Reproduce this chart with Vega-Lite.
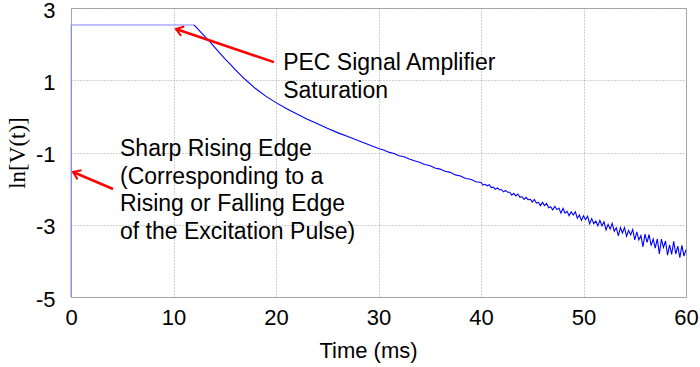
{
  "$schema": "https://vega.github.io/schema/vega-lite/v6.json",
  "width": 615,
  "height": 289,
  "autosize": "none",
  "padding": {"left": 71, "top": 8, "right": 14, "bottom": 70},
  "background": "white",
  "config": {
    "view": {"stroke": "#a8a8a8", "strokeWidth": 1},
    "axis": {
      "grid": true, "gridColor": "#a0a0a0", "gridDash": [1, 2], "gridWidth": 1,
      "domain": false, "ticks": false,
      "labelFont": "Liberation Sans", "labelFontSize": 22, "labelColor": "#000000",
      "labelFlush": false,
      "labelExpr": "datum.value < 0 ? '-' + abs(datum.value) : '' + datum.value",
      "titleFont": "Liberation Sans", "titleFontSize": 22, "titleFontWeight": "normal", "titleColor": "#000000"
    }
  },
  "datasets": {
    "trace": [
      {"t": 0, "v": -5},
      {"t": 0.02, "v": 2.53},
      {"t": 12, "v": 2.53},
      {"t": 12.5, "v": 2.38},
      {"t": 13, "v": 2.23},
      {"t": 13.5, "v": 2.08},
      {"t": 14, "v": 1.92},
      {"t": 14.5, "v": 1.76},
      {"t": 15, "v": 1.6},
      {"t": 15.5, "v": 1.45},
      {"t": 16, "v": 1.3},
      {"t": 17, "v": 1.02},
      {"t": 18, "v": 0.77},
      {"t": 19, "v": 0.56},
      {"t": 20, "v": 0.38},
      {"t": 21, "v": 0.22},
      {"t": 22, "v": 0.07},
      {"t": 23, "v": -0.07},
      {"t": 24, "v": -0.2},
      {"t": 25, "v": -0.33},
      {"t": 26, "v": -0.45},
      {"t": 27, "v": -0.56},
      {"t": 28, "v": -0.67},
      {"t": 29, "v": -0.78},
      {"t": 30, "v": -0.89},
      {"t": 30.5, "v": -0.93},
      {"t": 31, "v": -0.99},
      {"t": 31.5, "v": -1.03},
      {"t": 32, "v": -1.09},
      {"t": 32.5, "v": -1.12},
      {"t": 33, "v": -1.18},
      {"t": 33.5, "v": -1.23},
      {"t": 34, "v": -1.27},
      {"t": 34.5, "v": -1.33},
      {"t": 35, "v": -1.36},
      {"t": 35.5, "v": -1.43},
      {"t": 36, "v": -1.46},
      {"t": 36.5, "v": -1.52},
      {"t": 37, "v": -1.55},
      {"t": 37.5, "v": -1.62},
      {"t": 38, "v": -1.65},
      {"t": 38.5, "v": -1.72},
      {"t": 39, "v": -1.74},
      {"t": 39.5, "v": -1.81},
      {"t": 40.0, "v": -1.83},
      {"t": 40.2, "v": -1.90},
      {"t": 40.4, "v": -1.88},
      {"t": 40.6, "v": -1.92},
      {"t": 40.8, "v": -1.89},
      {"t": 41.0, "v": -1.97},
      {"t": 41.2, "v": -1.96},
      {"t": 41.4, "v": -2.02},
      {"t": 41.6, "v": -1.98},
      {"t": 41.8, "v": -2.03},
      {"t": 42.0, "v": -2.03},
      {"t": 42.2, "v": -2.09},
      {"t": 42.4, "v": -2.05},
      {"t": 42.6, "v": -2.10},
      {"t": 42.8, "v": -2.10},
      {"t": 43.0, "v": -2.18},
      {"t": 43.2, "v": -2.13},
      {"t": 43.4, "v": -2.20},
      {"t": 43.6, "v": -2.15},
      {"t": 43.8, "v": -2.24},
      {"t": 44.0, "v": -2.22},
      {"t": 44.2, "v": -2.30},
      {"t": 44.4, "v": -2.24},
      {"t": 44.6, "v": -2.31},
      {"t": 44.8, "v": -2.29},
      {"t": 45.0, "v": -2.37},
      {"t": 45.2, "v": -2.30},
      {"t": 45.4, "v": -2.40},
      {"t": 45.6, "v": -2.38},
      {"t": 45.8, "v": -2.47},
      {"t": 46.0, "v": -2.38},
      {"t": 46.2, "v": -2.47},
      {"t": 46.4, "v": -2.41},
      {"t": 46.6, "v": -2.53},
      {"t": 46.8, "v": -2.50},
      {"t": 47.0, "v": -2.59},
      {"t": 47.2, "v": -2.49},
      {"t": 47.4, "v": -2.58},
      {"t": 47.6, "v": -2.54},
      {"t": 47.8, "v": -2.68},
      {"t": 48.0, "v": -2.55},
      {"t": 48.2, "v": -2.68},
      {"t": 48.4, "v": -2.63},
      {"t": 48.6, "v": -2.75},
      {"t": 48.8, "v": -2.64},
      {"t": 49.0, "v": -2.73},
      {"t": 49.2, "v": -2.64},
      {"t": 49.4, "v": -2.82},
      {"t": 49.6, "v": -2.73},
      {"t": 49.8, "v": -2.88},
      {"t": 50.0, "v": -2.75},
      {"t": 50.2, "v": -2.86},
      {"t": 50.4, "v": -2.76},
      {"t": 50.6, "v": -2.97},
      {"t": 50.8, "v": -2.83},
      {"t": 51.0, "v": -2.97},
      {"t": 51.2, "v": -2.90},
      {"t": 51.4, "v": -3.03},
      {"t": 51.6, "v": -2.88},
      {"t": 51.8, "v": -3.03},
      {"t": 52.0, "v": -2.92},
      {"t": 52.2, "v": -3.14},
      {"t": 52.4, "v": -2.99},
      {"t": 52.6, "v": -3.12},
      {"t": 52.8, "v": -2.96},
      {"t": 53.0, "v": -3.18},
      {"t": 53.2, "v": -3.08},
      {"t": 53.4, "v": -3.31},
      {"t": 53.6, "v": -3.08},
      {"t": 53.8, "v": -3.23},
      {"t": 54.0, "v": -3.08},
      {"t": 54.2, "v": -3.32},
      {"t": 54.4, "v": -3.16},
      {"t": 54.6, "v": -3.28},
      {"t": 54.8, "v": -3.13},
      {"t": 55.0, "v": -3.42},
      {"t": 55.2, "v": -3.20},
      {"t": 55.4, "v": -3.42},
      {"t": 55.6, "v": -3.30},
      {"t": 55.8, "v": -3.61},
      {"t": 56.0, "v": -3.26},
      {"t": 56.2, "v": -3.49},
      {"t": 56.4, "v": -3.27},
      {"t": 56.6, "v": -3.58},
      {"t": 56.8, "v": -3.40},
      {"t": 57.0, "v": -3.65},
      {"t": 57.2, "v": -3.39},
      {"t": 57.4, "v": -3.81},
      {"t": 57.6, "v": -3.40},
      {"t": 57.8, "v": -3.63},
      {"t": 58.0, "v": -3.45},
      {"t": 58.2, "v": -3.84},
      {"t": 58.4, "v": -3.56},
      {"t": 58.6, "v": -3.82},
      {"t": 58.8, "v": -3.46},
      {"t": 59.0, "v": -3.81},
      {"t": 59.2, "v": -3.59},
      {"t": 59.4, "v": -3.91},
      {"t": 59.6, "v": -3.57},
      {"t": 59.8, "v": -3.87},
      {"t": 60.0, "v": -3.69}
    ],
    "arrows": [
      {"id": "pec", "t0": 19.8, "v0": 1.5, "t1": 10.24, "v1": 2.42},
      {"id": "edge", "t0": 4.1, "v0": -2.01, "t1": 0.2, "v1": -1.54}
    ],
    "notes": [
      {"t": 20.7, "v": 1.28, "label": ["PEC Signal Amplifier", "Saturation"]},
      {"t": 4.78, "v": -1.1, "label": ["Sharp Rising Edge", "(Corresponding to a", "Rising or Falling Edge", "of the Excitation Pulse)"]}
    ]
  },
  "layer": [
    {
      "data": {"name": "trace"},
      "transform": [{"filter": "datum.t <= 12"}],
      "mark": {"type": "line", "color": "#8080ff", "strokeWidth": 1, "clip": false},
      "encoding": {
        "x": {
          "field": "t", "type": "quantitative",
          "scale": {"domain": [0, 60], "nice": false},
          "axis": {"values": [0, 10, 20, 30, 40, 50, 60], "title": "Time (ms)", "labelPadding": 10, "titlePadding": 12, "titleX": 297}
        },
        "y": {
          "field": "v", "type": "quantitative",
          "scale": {"domain": [-5, 3], "nice": false, "zero": false},
          "axis": {"values": [-5, -3, -1, 1, 3], "title": "ln[V(t)]", "titleFont": "Liberation Serif", "titleFontSize": 23, "labelPadding": 16, "titlePadding": 6, "labelOffset": 2}
        }
      }
    },
    {
      "data": {"name": "trace"},
      "transform": [{"filter": "datum.t >= 12"}],
      "mark": {"type": "line", "color": "#0000ff", "strokeWidth": 1.1, "clip": false},
      "encoding": {
        "x": {"field": "t", "type": "quantitative"},
        "y": {"field": "v", "type": "quantitative"}
      }
    },
    {
      "data": {"name": "arrows"},
      "mark": {"type": "rule", "color": "#ff0000", "strokeWidth": 2.5},
      "encoding": {
        "x": {"field": "t0", "type": "quantitative"},
        "y": {"field": "v0", "type": "quantitative"},
        "x2": {"field": "t1"},
        "y2": {"field": "v1"}
      }
    },
    {
      "data": {"name": "arrows"},
      "transform": [{"filter": "datum.id == 'pec'"}],
      "mark": {"type": "point", "shape": "M-1,-0.7L0,0L-1,0.7", "filled": false, "stroke": "#ff0000", "strokeWidth": 2, "size": 200, "angle": 198.5, "opacity": 1},
      "encoding": {
        "x": {"field": "t1", "type": "quantitative"},
        "y": {"field": "v1", "type": "quantitative"}
      }
    },
    {
      "data": {"name": "arrows"},
      "transform": [{"filter": "datum.id == 'edge'"}],
      "mark": {"type": "point", "shape": "M-1,-0.7L0,0L-1,0.7", "filled": false, "stroke": "#ff0000", "strokeWidth": 2, "size": 200, "angle": 203.7, "opacity": 1},
      "encoding": {
        "x": {"field": "t1", "type": "quantitative"},
        "y": {"field": "v1", "type": "quantitative"}
      }
    },
    {
      "data": {"name": "notes"},
      "mark": {"type": "text", "align": "left", "baseline": "alphabetic", "font": "Liberation Sans", "fontSize": 23, "lineHeight": 27.5, "color": "#000000"},
      "encoding": {
        "x": {"field": "t", "type": "quantitative"},
        "y": {"field": "v", "type": "quantitative"},
        "text": {"field": "label"}
      }
    }
  ]
}
